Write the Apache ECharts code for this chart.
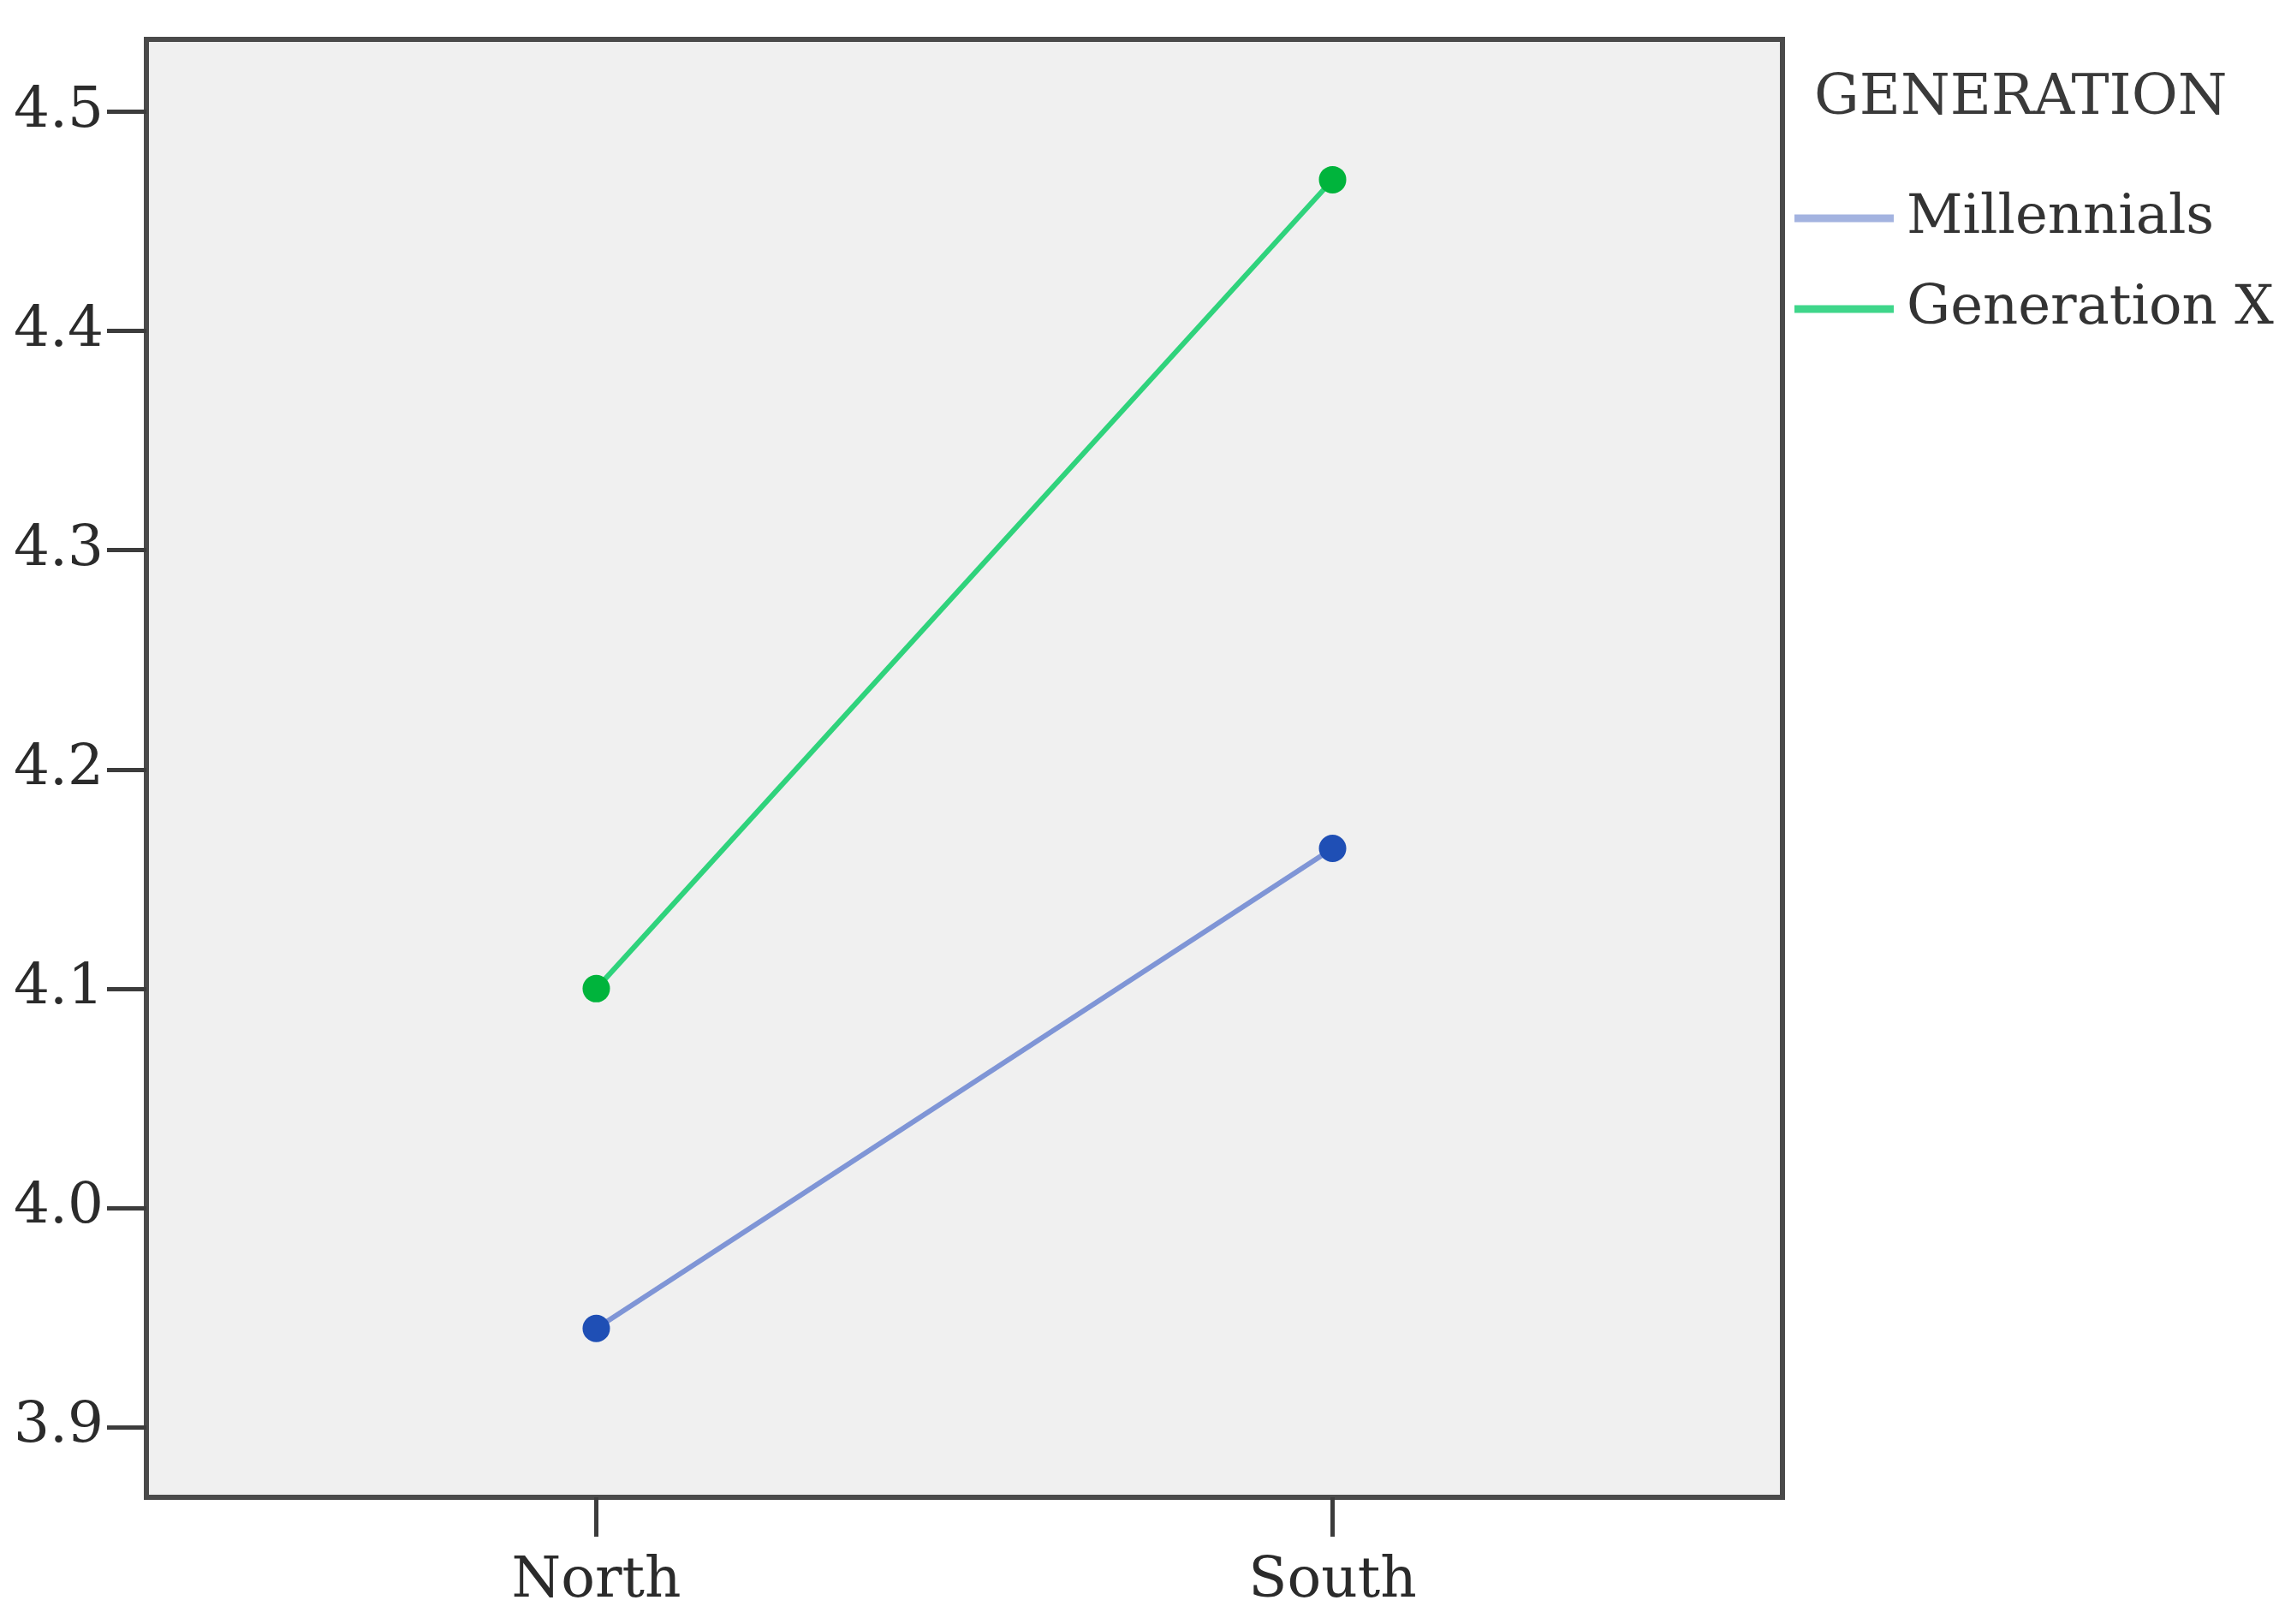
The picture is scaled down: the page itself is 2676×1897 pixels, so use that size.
<!DOCTYPE html>
<html>
<head>
<meta charset="utf-8">
<title>GENERATION</title>
<script src="https://cdn.jsdelivr.net/npm/echarts@6/dist/echarts.min.js"></script>
<style>
  html, body { margin: 0; padding: 0; background: #ffffff; }
  #chart { width: 2676px; height: 1897px; }
</style>
</head>
<body>
<div id="chart"></div>
<script>
// categories on the x axis
var regions = ['North', 'South'];
// estimated marginal means per generation
var millennials = [3.945, 4.164];
var generationX = [4.100, 4.469];
// y tick labels
var yTicks = [3.9, 4.0, 4.1, 4.2, 4.3, 4.4, 4.5];

var fontFam = '"DejaVu Serif", "Liberation Serif", serif';

function toPoints(vals) {
    var out = [];
    for (var i = 0; i < vals.length; i++) {
        out.push([i, vals[i]]);
    }
    return out;
}

var chart = echarts.init(document.getElementById('chart'));

var option = {
    animation: false,
    backgroundColor: '#ffffff',
    title: {
        text: 'GENERATION',
        left: 2114,
        top: 78,
        textStyle: {
            fontFamily: fontFam,
            fontWeight: 'normal',
            fontSize: 66,
            color: '#3a3a3a'
        }
    },
    legend: {
        orient: 'vertical',
        left: 2091,
        top: 214,
        itemWidth: 116,
        itemHeight: 9,
        itemGap: 34,
        textStyle: {
            fontFamily: fontFam,
            fontSize: 64,
            lineHeight: 72,
            color: '#333333',
            padding: [0, 0, 0, 10]
        },
        data: [
            { name: 'Millennials', icon: 'rect', itemStyle: { color: '#a3b3e0' } },
            { name: 'Generation X', icon: 'rect', itemStyle: { color: '#3fd68a' } }
        ]
    },
    grid: {
        left: 171,
        right: 594,
        top: 46,
        bottom: 148,
        show: true,
        backgroundColor: '#f0f0f0',
        borderColor: '#4a4a4a',
        borderWidth: 6
    },
    xAxis: {
        type: 'value',
        min: -0.611,
        max: 1.611,
        splitLine: { show: false },
        axisLine: { show: false, onZero: false },
        axisTick: {
            show: true,
            customValues: [0, 1],
            length: 46,
            lineStyle: { color: '#3c3c3c', width: 5 }
        },
        axisLabel: {
            customValues: [0, 1],
            margin: 66,
            fontFamily: fontFam,
            fontSize: 66,
            color: '#2b2b2b',
            formatter: function (v) { return regions[Math.round(v)]; }
        }
    },
    yAxis: {
        type: 'value',
        min: 3.868,
        max: 4.533,
        splitLine: { show: false },
        axisLine: { show: false, onZero: false },
        axisTick: {
            show: true,
            customValues: yTicks,
            length: 46,
            lineStyle: { color: '#3c3c3c', width: 5 }
        },
        axisLabel: {
            customValues: yTicks,
            margin: 50,
            fontFamily: fontFam,
            fontSize: 66,
            color: '#2b2b2b',
            formatter: function (v) { return v.toFixed(1); }
        }
    },
    series: [
        {
            name: 'Millennials',
            type: 'line',
            data: toPoints(millennials),
            symbol: 'circle',
            symbolSize: 32,
            lineStyle: { color: '#7f95d6', width: 6 },
            itemStyle: { color: '#1f4fb5' },
            z: 3
        },
        {
            name: 'Generation X',
            type: 'line',
            data: toPoints(generationX),
            symbol: 'circle',
            symbolSize: 32,
            lineStyle: { color: '#2fd37c', width: 6 },
            itemStyle: { color: '#00b43c' },
            z: 3
        }
    ]
};

chart.setOption(option);
</script>
</body>
</html>
